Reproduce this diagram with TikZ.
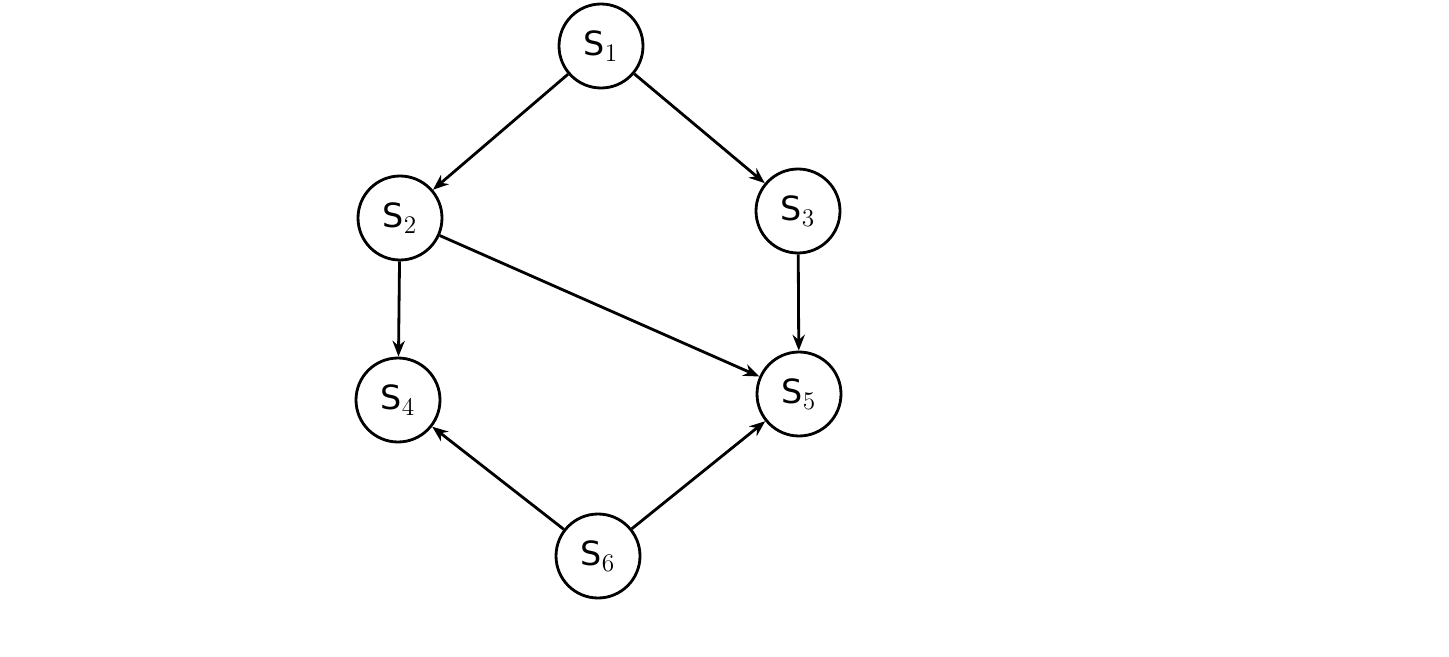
\documentclass[tikz,border=0pt]{standalone}
\usepackage{fontspec}
\setmainfont{DejaVu Sans}
\usetikzlibrary{arrows.meta}
\begin{document}
\begin{tikzpicture}[line width=1.6pt,
    state/.style={draw,circle,minimum size=1.68cm,inner sep=0pt,font=\fontsize{19}{22}\selectfont},
    >={Stealth[length=9pt,width=7pt]}]
\useasboundingbox (0,0) rectangle (28.98,13.12);

\node[state] (s1) at (12.02,12.2) {S$_1$};
\node[state] (s2) at (8.0,8.76) {S$_2$};
\node[state] (s3) at (15.96,8.9) {S$_3$};
\node[state] (s4) at (7.96,5.12) {S$_4$};
\node[state] (s5) at (15.98,5.24) {S$_5$};
\node[state] (s6) at (11.96,2.0) {S$_6$};

\draw[->] (s1) -- (s2);
\draw[->] (s1) -- (s3);
\draw[->] (s2) -- (s4);
\draw[->] (s2) -- (s5);
\draw[->] (s3) -- (s5);
\draw[->] (s6) -- (s4);
\draw[->] (s6) -- (s5);

\end{tikzpicture}
\end{document}
